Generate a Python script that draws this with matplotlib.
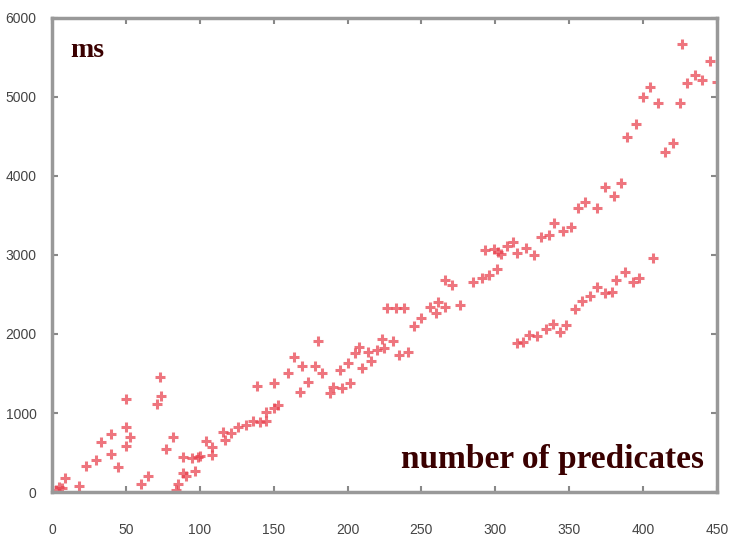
import matplotlib
matplotlib.use("Agg")
import matplotlib.pyplot as plt

# upper (main) series: number of predicates vs time in ms
x_main = [3, 5, 7, 9, 18, 23, 30, 33, 40, 40, 45, 50, 50, 53, 50, 60, 65, 71, 73, 74,
          77, 82, 84, 85, 89, 89, 91, 95, 97, 99, 100, 104, 108, 108, 116, 117, 121, 126,
          131, 136, 141, 145, 145, 150, 153, 139, 150, 160, 164, 168, 169, 173, 178, 180,
          183, 188, 190, 196, 195, 200, 202, 205, 208, 210, 214, 216, 220, 223, 225, 231,
          235, 241, 227, 233, 238, 245, 250, 256, 260, 261, 266, 266, 271, 276, 285, 291,
          296, 301, 293, 299, 302, 304, 308, 312, 315, 321, 326, 331, 336, 340, 346, 351,
          356, 361, 369, 374, 380, 385, 389, 395, 400, 405, 410, 415, 420, 425, 426, 430,
          435, 440, 445, 450]
y_main = [20, 60, 50, 175, 75, 330, 400, 630, 735, 480, 315, 1180, 820, 695, 585, 100, 200,
          1120, 1455, 1215, 550, 700, 25, 100, 240, 445, 205, 430, 265, 445, 450, 650, 570,
          470, 760, 660, 750, 825, 850, 900, 885, 900, 1010, 1065, 1100, 1340, 1385, 1510,
          1710, 1265, 1590, 1390, 1600, 1915, 1505, 1250, 1330, 1315, 1545, 1635, 1380,
          1760, 1835, 1570, 1770, 1660, 1800, 1935, 1820, 1910, 1735, 1770, 2330, 2330,
          2330, 2100, 2200, 2345, 2265, 2405, 2345, 2685, 2620, 2365, 2660, 2710, 2745,
          2820, 3060, 3075, 3040, 3010, 3110, 3165, 3025, 3090, 3000, 3230, 3250, 3400,
          3300, 3355, 3595, 3670, 3595, 3860, 3745, 3910, 4495, 4660, 5000, 5125, 4925,
          4300, 4420, 4925, 5670, 5180, 5280, 5215, 5455, 5190]

# lower branch
x_low = [315, 319, 323, 328, 334, 339, 344, 348, 354, 359, 364, 369, 374, 379, 382, 388,
         393, 397, 407]
y_low = [1885, 1900, 1990, 1975, 2060, 2125, 2025, 2115, 2315, 2420, 2480, 2595, 2520,
         2530, 2685, 2785, 2660, 2710, 2960]

x_ticks = [0, 50, 100, 150, 200, 250, 300, 350, 400, 450]
y_ticks = [0, 1000, 2000, 3000, 4000, 5000, 6000]

fig = plt.figure(figsize=(7.34, 5.43), dpi=100)
ax = fig.add_axes([0.0708, 0.0939, 0.906, 0.873])

mk = dict(marker='+', linestyle='none', markersize=7, markeredgewidth=2.2,
          color='#e8404c', alpha=0.72)
ax.plot(x_main, y_main, **mk)
ax.plot(x_low, y_low, **mk)

ax.set_xlim(0, 450)
ax.set_ylim(0, 6000)
ax.set_xticks(x_ticks)
ax.set_yticks(y_ticks)

tick_font = ['Liberation Sans', 'DejaVu Sans']
for lab in ax.get_xticklabels() + ax.get_yticklabels():
    lab.set_family(tick_font)
    lab.set_fontsize(10)
    lab.set_color('#444444')

ax.tick_params(axis='x', direction='in', length=4, width=1.5, color='#888888',
               pad=22, top=True)
ax.tick_params(axis='y', direction='in', length=4, width=1.5, color='#888888',
               pad=11, right=True)
for s in ax.spines.values():
    s.set_color('#999999')
    s.set_linewidth(2.5)

ax.text(0.028, 0.958, 'ms', transform=ax.transAxes, fontsize=20, fontweight='bold',
        family=['Liberation Serif', 'DejaVu Serif'], color='#3a0000', va='top', ha='left')
ax.text(0.98, 0.035, 'number of predicates', transform=ax.transAxes, fontsize=24,
        fontweight='bold', family=['Liberation Serif', 'DejaVu Serif'], color='#3a0000',
        va='bottom', ha='right')

fig.savefig('out.png', dpi=100)
